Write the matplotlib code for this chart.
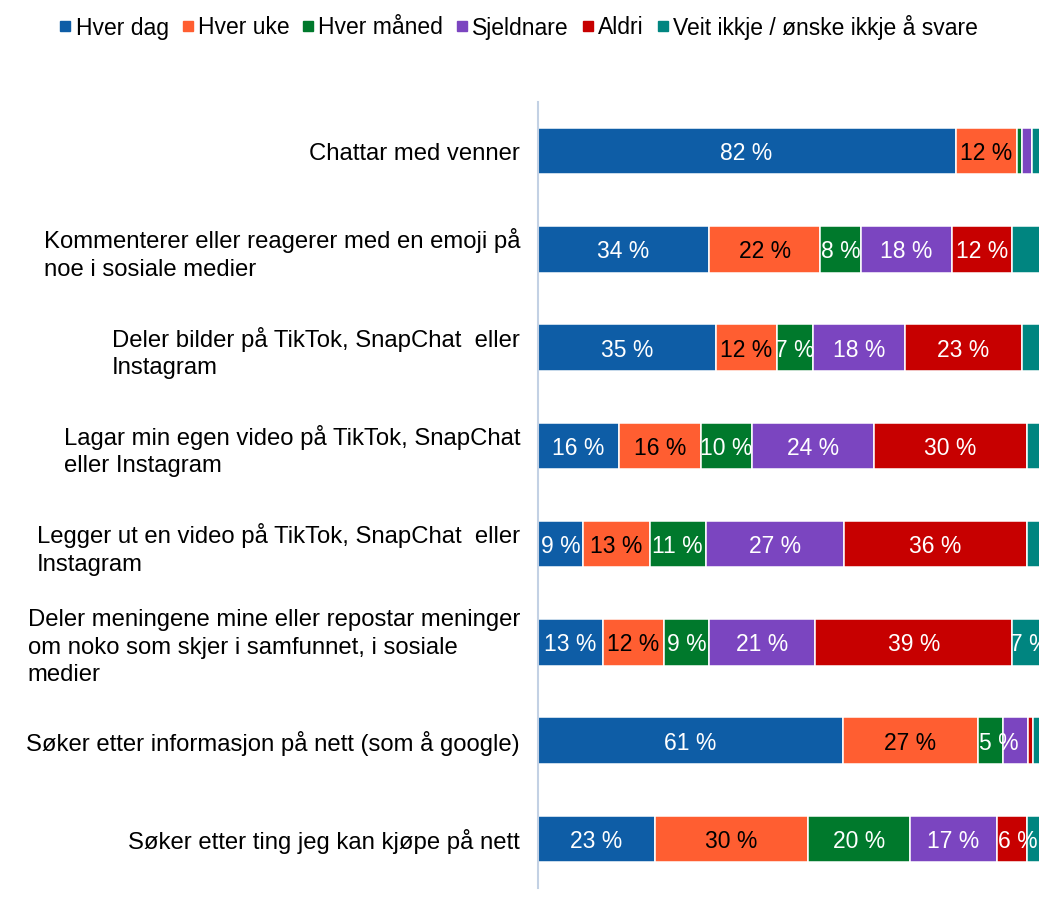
import numpy as np
import matplotlib
matplotlib.use('Agg')
import matplotlib.pyplot as plt
from matplotlib.lines import Line2D

plt.rcParams['font.family'] = ['Liberation Sans', 'DejaVu Sans']
plt.rcParams['font.size'] = 16.5

# categories, top to bottom
categories = [
    'Chattar med venner',
    'Kommenterer eller reagerer med en emoji på\nnoe i sosiale medier',
    'Deler bilder på TikTok, SnapChat  eller\nInstagram',
    'Lagar min egen video på TikTok, SnapChat\neller Instagram',
    'Legger ut en video på TikTok, SnapChat  eller\nInstagram',
    'Deler meningene mine eller repostar meninger\nom noko som skjer i samfunnet, i sosiale\nmedier',
    'Søker etter informasjon på nett (som å google)',
    'Søker etter ting jeg kan kjøpe på nett',
]

series_names = ['Hver dag', 'Hver uke', 'Hver måned', 'Sjeldnare', 'Aldri',
                'Veit ikkje / ønske ikkje å svare']

# percentages per series (rows as in categories)
hver_dag = [82, 34, 35, 16, 9, 13, 61, 23]
hver_uke = [12, 22, 12, 16, 13, 12, 27, 30]
hver_maaned = [1, 8, 7, 10, 11, 9, 5, 20]
sjeldnare = [2, 18, 18, 24, 27, 21, 5, 17]
aldri = [0, 12, 23, 30, 36, 39, 1, 6]
veit_ikkje = [3, 7, 5, 4, 4, 7, 3, 4]

colors = ['#0E5DA6', '#FF5E31', '#00792C', '#7B45C0', '#C70000', '#008580']
label_colors = ['white', 'black', 'white', 'white', 'white', 'white']

# labels that are not shown in the original (row, series)
hidden_labels = [(1, 5), (2, 5), (6, 3)]
min_label = 5

values = np.array([hver_dag, hver_uke, hver_maaned, sjeldnare, aldri, veit_ikkje], dtype=float)
totals = values.sum(axis=0)
shares = values / totals * 100  # 100 % stacked, like the original

fig = plt.figure(figsize=(10.39, 9.09), dpi=100)
ax = fig.add_axes([537.5 / 1039, 21 / 909, 510 / 1039, 786 / 909])

y = np.arange(len(categories))
left = np.zeros(len(categories))
for i in range(len(series_names)):
    ax.barh(y, shares[i], left=left, height=0.475, color=colors[i],
            edgecolor='white', linewidth=1.1, label=series_names[i])
    for j in range(len(categories)):
        v = values[i, j]
        if v >= min_label and (j, i) not in hidden_labels:
            # narrow segments: label starts at the segment's left edge
            if shares[i, j] < 6.5:
                ax.text(left[j] + 0.3, y[j], '%d %%' % v,
                        ha='left', va='center_baseline', color=label_colors[i])
            else:
                ax.text(left[j] + shares[i, j] / 2, y[j], '%d %%' % v,
                        ha='center', va='center_baseline', color=label_colors[i])
    left = left + shares[i]

ax.set_xlim(0, 100)
ax.set_ylim(len(categories) - 0.5, -0.5)
ax.set_yticks(y)
ax.set_yticklabels(categories, fontsize=17.2)
for t in ax.get_yticklabels():
    t.set_multialignment('left')
    t.set_linespacing(1.33)
ax.tick_params(axis='y', length=0, pad=12.6)
ax.set_xticks([])
for s in ['top', 'right', 'bottom']:
    ax.spines[s].set_visible(False)
ax.spines['left'].set_color('#C3D1E4')
ax.spines['left'].set_linewidth(1.5)

handles = [Line2D([], [], marker='s', linestyle='none', markersize=6.6,
                  markerfacecolor=c, markeredgecolor=c) for c in colors]
fig.legend(handles, series_names, loc='center', bbox_to_anchor=(519 / 1039, 1 - 27 / 909),
           ncol=6, frameon=False, handlelength=0.45, handletextpad=0.22,
           columnspacing=0.6, borderpad=0)

fig.savefig('out.png', dpi=100)
